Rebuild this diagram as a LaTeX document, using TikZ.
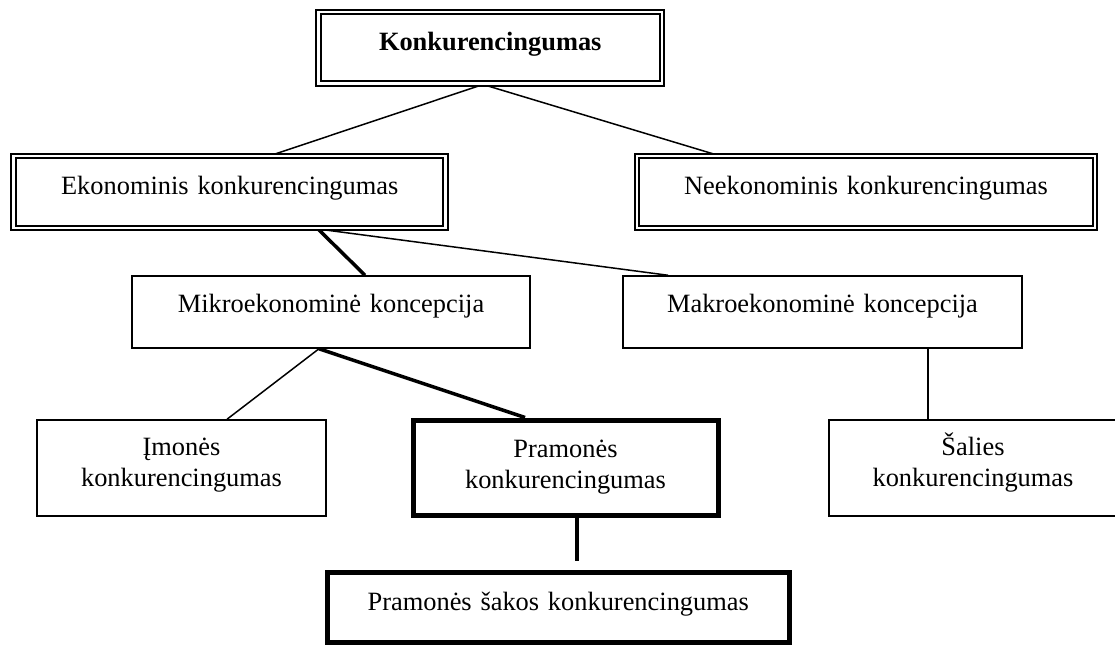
\documentclass[tikz,border=0pt]{standalone}
\usepackage{fontspec}
\setmainfont{Liberation Serif}
\usetikzlibrary{calc,backgrounds}
\begin{document}
\begin{tikzpicture}[x=1pt,y=-1pt,
  box/.style={draw, fill=white, inner sep=0pt, align=center, font=\fontsize{26.4}{31.5}\selectfont},
  boxdbl/.style={box, double, double distance=2.8pt, line width=2pt},
  boxthin/.style={box, line width=1.5pt},
  boxheavy/.style={box, line width=5pt},
  link/.style={line width=1.5pt},
  heavylink/.style={line width=3.5pt}]
\useasboundingbox (0,0) rectangle (1115,645);

\node[boxdbl, minimum width=343.5pt, minimum height=71.5pt, text width=330pt, text height=14pt, text depth=9.5pt, font=\fontsize{26.4}{31.5}\selectfont\bfseries] (top) at (490.25,47.75) {Konkurencingumas};
\node[boxdbl, minimum width=432pt, minimum height=72pt, text width=420pt, text height=14pt, text depth=10pt] (ekon) at (229.75,192) {Ekonominis konkurencingumas};
\node[boxdbl, minimum width=458pt, minimum height=72pt, text width=440pt, text height=14pt, text depth=10pt] (neek) at (866,192) {Neekonominis konkurencingumas};
\node[boxthin, minimum width=398pt, minimum height=72pt, text width=380pt, text height=12pt, text depth=12pt] (mikro) at (331,312) {Mikroekonominė koncepcija};
\node[boxthin, minimum width=399pt, minimum height=72pt, text width=380pt, text height=12pt, text depth=12pt] (makro) at (822.5,312) {Makroekonominė koncepcija};
\node[boxthin, minimum width=289pt, minimum height=96pt, text width=280pt, text height=12pt, text depth=38pt] (imones) at (181.5,468) {Įmonės\\konkurencingumas};
\node[boxheavy, minimum width=305pt, minimum height=95pt, text width=290pt, text height=12pt, text depth=33pt] (pram) at (565.5,467.5) {Pramonės\\konkurencingumas};
\node[boxthin, minimum width=288pt, minimum height=96pt, text width=280pt, text height=12pt, text depth=38pt] (salies) at (973,468) {Šalies\\konkurencingumas};
\node[boxheavy, minimum width=461.5pt, minimum height=70pt, text width=450pt, text height=14pt, text depth=9pt] (sakos) at (558.25,607.5) {Pramonės šakos konkurencingumas};

\coordinate (gapend) at ($(sakos.north)+(18.75,-9.5)$);

\begin{scope}[on background layer]
\draw[link] ($(top.south)+(-7.25,0)$) -- ($(ekon.north)+(42.25,0)$);
\draw[link] ($(top.south)+(-7.25,0)$) -- ($(neek.north)+(-149,0)$);
\draw[heavylink] ($(ekon.south)+(88.25,0)$) -- ($(mikro.north)+(34,0)$);
\draw[link] ($(ekon.south)+(88.25,0)$) -- ($(makro.north)+(-154.5,0)$);
\draw[link] ($(mikro.south)+(-12,0)$) -- ($(imones.north)+(45.5,0)$);
\draw[heavylink] ($(mikro.south)+(-12,0)$) -- ($(pram.north)+(-40.5,0)$);
\draw[link] ($(makro.south)+(105.5,0)$) -- ($(salies.north)+(-45,0)$);
\draw[heavylink] ($(pram.south)+(11.5,0)$) -- (gapend);
\end{scope}
\end{tikzpicture}
\end{document}
